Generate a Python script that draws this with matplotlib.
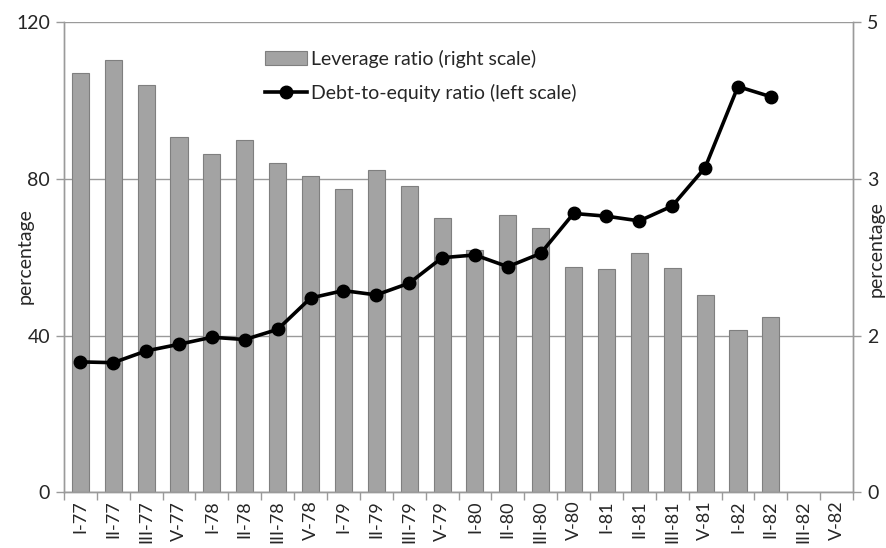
import matplotlib
matplotlib.use("Agg")
import matplotlib.pyplot as plt
from matplotlib.ticker import FixedLocator, FuncFormatter
import numpy as np

plt.rcParams['font.family'] = ['Lato', 'DejaVu Sans']

quarters = ["I-77", "II-77", "III-77", "V-77", "I-78", "II-78", "III-78", "V-78",
            "I-79", "II-79", "III-79", "V-79", "I-80", "II-80", "III-80", "V-80",
            "I-81", "II-81", "III-81", "V-81", "I-82", "II-82", "III-82", "V-82"]

# Leverage ratio (right scale); last two quarters have no data
leverage = [4.46, 4.60, 4.33, 3.78, 3.60, 3.75, 3.50, 3.37,
            3.23, 3.43, 3.26, 2.92, 2.58, 2.95, 2.81, 2.40,
            2.38, 2.55, 2.39, 2.10, 1.73, 1.86, np.nan, np.nan]

# Debt-to-equity ratio (left scale, percentage)
debt_equity = [33.3, 33.1, 36.1, 37.8, 39.6, 39.0, 41.6, 49.6,
               51.5, 50.4, 53.4, 59.9, 60.6, 57.6, 61.0, 71.2,
               70.5, 69.3, 73.1, 82.9, 103.6, 101.0, np.nan, np.nan]

left_ticks = [0, 40, 80, 120]
right_ticks = [0, 5 / 3, 10 / 3, 5]

grey = "#9a9a9a"
text_col = "#262626"

fig = plt.figure(figsize=(8.86, 5.48), dpi=100)
ax = fig.add_axes([0.0722, 0.1016, 0.8906, 0.8577])
ax2 = ax.twinx()

x = np.arange(len(quarters))

# bars on the secondary axis, drawn underneath the line
ax2.bar(x, leverage, width=0.52, color="#a3a3a3", edgecolor="#7f7f7f",
        linewidth=0.8, label="Leverage ratio (right scale)", zorder=2)
ax2.set_ylim(0, 5)
ax2.yaxis.set_major_locator(FixedLocator(right_ticks))
ax2.yaxis.set_major_formatter(FuncFormatter(lambda v, p: f"{v:.0f}"))
ax2.grid(axis="y", color=grey, linewidth=1.0, zorder=0)
ax2.set_axisbelow(True)
ax2.set_ylabel("percentage", fontsize=14, color=text_col)
ax2.yaxis.set_label_coords(1.018, 0.518)

ax.plot(x, debt_equity, color="black", linewidth=2.6, marker="o",
        markersize=9, label="Debt-to-equity ratio (left scale)", zorder=3)
ax.set_ylim(0, 120)
ax.yaxis.set_major_locator(FixedLocator(left_ticks))
ax.set_ylabel("percentage", fontsize=14, color=text_col)
ax.yaxis.set_label_coords(-0.039, 0.503)

ax.set_zorder(ax2.get_zorder() + 1)
ax.patch.set_visible(False)

ax.set_xlim(-0.5, len(quarters) - 0.5)
ax.set_xticks(x)
ax.set_xticklabels(quarters, rotation=90, fontsize=13, color=text_col)
ax.set_xticks(np.arange(-0.5, len(quarters)), minor=True)
ax.tick_params(axis="x", which="major", length=0, pad=6)
ax.tick_params(axis="x", which="minor", length=6, color=grey, width=1)

ax.tick_params(axis="y", length=6, color=grey, width=1, labelsize=14,
               labelcolor=text_col, pad=4)
ax2.tick_params(axis="y", length=6, color=grey, width=1, labelsize=14,
                labelcolor=text_col, pad=4)

for a in (ax, ax2):
    for s in a.spines.values():
        s.set_color(grey)
        s.set_linewidth(1.0)
    a.spines["top"].set_visible(False)

h1, l1 = ax2.get_legend_handles_labels()
h2, l2 = ax.get_legend_handles_labels()
fig.legend(h1 + h2, l1 + l2, loc="upper left", bbox_to_anchor=(0.279, 0.941),
           frameon=False, fontsize=14, handlelength=2.2, handletextpad=0.2,
           labelspacing=0.8, labelcolor=text_col)

fig.savefig("out.png", dpi=100)
